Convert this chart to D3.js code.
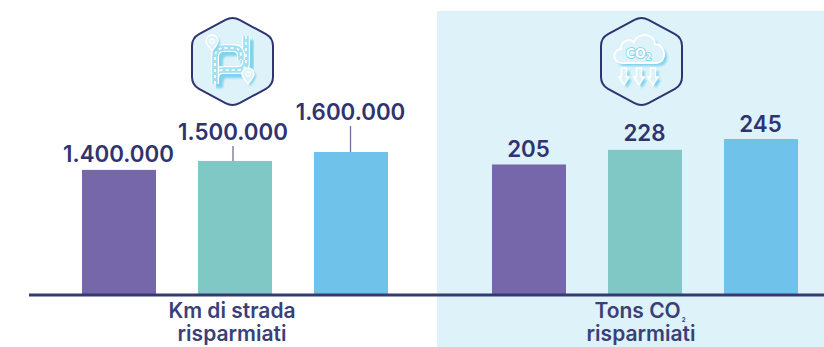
<!DOCTYPE html>
<html><head><meta charset="utf-8">
<style>html,body{margin:0;padding:0;background:#fff}svg{display:block}
text{font-family:"Inter","Liberation Sans",sans-serif;fill:#2f3470}</style>
<script src="https://cdn.jsdelivr.net/npm/d3@7"></script></head><body>
<svg id="c" width="824" height="347"></svg>
<script>
// Values per panel
const slots = ["a","b","c"];
const kmValues = [1400000,1500000,1600000];
const kmLabels = ["1.400.000","1.500.000","1.600.000"];
const co2Values = [205,228,245];
const co2Labels = ["205","228","245"];
const barColors = ["#7567aa","#7fc8c6","#6fc3ea"];
const kmTitle = ["Km di strada","risparmiati"];
const co2Title = ["Tons CO","risparmiati"];

const panelBg="#def2fa", glow="#7fd3ec", capColor="#3a3f78";
const svg=d3.select("#c");
const baseY=295;

// Soft drop shadow used by the icon shapes
svg.append("defs").append("filter").attr("id","soft").append("feGaussianBlur").attr("stdDeviation",0.9);

svg.append("rect").attr("x",437).attr("y",11).attr("width",387).attr("height",336).attr("fill",panelBg);

// Rounded pointy-top hexagon badge
function hexBadge(cx,fill){
  const top=16,bot=107,hw=40.5,r=8;
  const pts=[[cx,top],[cx+hw,top+22],[cx+hw,bot-22],[cx,bot],[cx-hw,bot-22],[cx-hw,top+22]];
  let d="";
  pts.forEach((p,i)=>{
    const a=pts[(i+5)%6],b=pts[(i+1)%6];
    const ua=Math.hypot(a[0]-p[0],a[1]-p[1]),ub=Math.hypot(b[0]-p[0],b[1]-p[1]);
    const s=[p[0]+(a[0]-p[0])*r/ua,p[1]+(a[1]-p[1])*r/ua];
    const e=[p[0]+(b[0]-p[0])*r/ub,p[1]+(b[1]-p[1])*r/ub];
    d+=(i?"L":"M")+s+"Q"+p+" "+e;
  });
  svg.append("path").attr("d",d+"Z").attr("fill",fill).attr("stroke","#2e3472").attr("stroke-width",2);
}
hexBadge(232.5,panelBg);
hexBadge(641.5,panelBg);

// Road icon: two joined carriageways and a pair of map pins
function roadIcon(){
  const g=svg.append("g");
  const a="M215,84 L215,57 Q215,48 224,48 L233,48 Q241,48 241,56 L241,60";
  const b="M246,36 L246,62 Q246,70 238,70 L223,70 Q215,70 215,78";
  const roads=[b,a];
  roads.forEach(d=>g.append("path").attr("d",d).attr("transform","translate(4,4)").attr("fill","none").attr("stroke",glow).attr("stroke-width",8).attr("filter","url(#soft)"));
  roads.forEach(d=>{
    g.append("path").attr("d",d).attr("fill","none").attr("stroke","#fff").attr("stroke-width",8);
    g.append("path").attr("d",d).attr("fill","none").attr("stroke","#9fe0f2").attr("stroke-width",5.6);
    g.append("path").attr("d",d).attr("fill","none").attr("stroke","#fff").attr("stroke-width",1.8).attr("stroke-dasharray","3 3");
  });
  [[212,41],[248,74]].forEach(([x,y])=>{
    const pin=`M${x},${y+10} C${x-3},${y+6} ${x-6},${y+3} ${x-6},${y} A6,6 0 1 1 ${x+6},${y} C${x+6},${y+3} ${x+3},${y+6} ${x},${y+10}Z`;
    g.append("path").attr("d",pin).attr("transform","translate(2,2)").attr("fill",glow).attr("filter","url(#soft)");
    g.append("path").attr("d",pin).attr("fill",panelBg).attr("stroke","#fff").attr("stroke-width",1.5);
    g.append("circle").attr("cx",x).attr("cy",y).attr("r",2.2).attr("fill","none").attr("stroke","#fff").attr("stroke-width",1.2);
  });
}
roadIcon();

// Cloud icon with falling arrows
function cloudIcon(){
  const g=svg.append("g");
  const cloud="M622,63 C612,63 612,50 621,49 C620,41 630,38 634,42 C637,32 655,33 655,44 C666,44 668,63 656,63 Z";
  g.append("path").attr("d",cloud).attr("transform","translate(3,3)").attr("fill",glow).attr("filter","url(#soft)");
  g.append("path").attr("d",cloud).attr("fill",panelBg).attr("stroke","#fff").attr("stroke-width",1.8);
  const t=g.append("text").attr("x",638.5).attr("y",58).attr("text-anchor","middle")
    .style("font-family","'DejaVu Sans Condensed','DejaVu Sans'").style("font-weight","700").style("font-size","14px").style("fill","#fff")
    .attr("stroke","#6fcbe8").attr("stroke-width",1.4).attr("paint-order","stroke");
  t.text("CO");
  t.append("tspan").attr("dy",2).style("font-size","9px").text("2");
  [624,639,653].forEach(x=>{
    const ar=`M${x-2.5},68 L${x+2.5},68 L${x+2.5},77 L${x+5},77 L${x},85 L${x-5},77 L${x-2.5},77Z`;
    g.append("path").attr("d",ar).attr("transform","translate(3,3)").attr("fill",glow).attr("filter","url(#soft)");
    g.append("path").attr("d",ar).attr("fill",panelBg).attr("stroke","#fff").attr("stroke-width",1.6);
  });
}
cloudIcon();

// One group of three bars with its own band and linear scales
function barGroup(range,values,labels,yMax,spots){
  const x=d3.scaleBand().domain(slots).range(range).paddingInner(42/116).paddingOuter(0);
  const y=d3.scaleLinear().domain([0,yMax]).range([baseY,baseY-143]);
  const g=svg.append("g");
  g.selectAll("rect").data(values).join("rect")
    .attr("x",(d,i)=>x(slots[i])).attr("width",x.bandwidth())
    .attr("y",d=>y(d)).attr("height",d=>baseY-y(d)).attr("fill",(d,i)=>barColors[i]);
  values.forEach((v,i)=>{
    if(!spots[i].lead) return;
    g.append("line").attr("x1",spots[i].x).attr("x2",spots[i].x)
      .attr("y1",spots[i].y+6).attr("y2",y(v))
      .attr("stroke","#6d7099").attr("stroke-width",1.3);
  });
  labels.forEach((l,i)=>{
    g.append("text").attr("x",spots[i].x).attr("y",spots[i].y).attr("text-anchor","middle")
      .style("font-size","22.3px").style("font-weight","600").text(l);
  });
}
barGroup([82,388],kmValues,kmLabels,1600000,[{x:118.5,y:162},{x:233,y:140,lead:true},{x:350.5,y:120,lead:true}]);
barGroup([492,798],co2Values,co2Labels,245*143/156,[{x:528.5,y:157},{x:644.5,y:141},{x:760.5,y:132}]);

// Baseline
svg.append("line").attr("x1",29).attr("x2",824).attr("y1",295).attr("y2",295).attr("stroke","#353a75").attr("stroke-width",2.8);

// Category captions
function caption(cx,y,txt){
  return svg.append("text").attr("x",cx).attr("y",y).attr("text-anchor","middle")
    .style("font-size","21px").style("font-weight","600").style("fill",capColor).text(txt);
}
caption(232,318,kmTitle[0]);
caption(232,341,kmTitle[1]);
// The subscript stays inside the caption's own text element
caption(640,318,co2Title[0]).append("tspan").attr("dx",1).attr("dy",4).style("font-size","6px").style("font-weight","700").text("2");
caption(641,341,co2Title[1]);
</script></body></html>
